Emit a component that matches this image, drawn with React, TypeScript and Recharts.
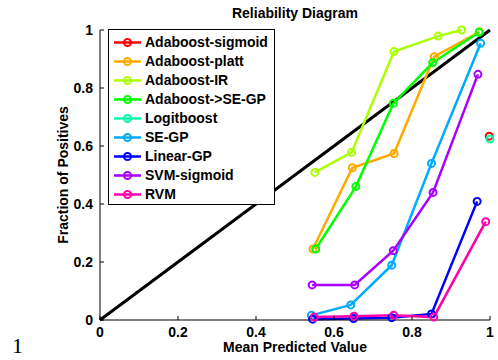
import React from 'react';
import { LineChart, Line, XAxis, YAxis, Legend } from 'recharts';

const FONT = '"Liberation Sans", Arial, Helvetica, sans-serif';

const axisTicks = [0, 0.2, 0.4, 0.6, 0.8, 1];

const seriesNames = [
  'Adaboost-sigmoid',
  'Adaboost-platt',
  'Adaboost-IR',
  'Adaboost->SE-GP',
  'Logitboost',
  'SE-GP',
  'Linear-GP',
  'SVM-sigmoid',
  'RVM',
];

// hsv(9) colour order
const seriesColors = [
  '#ff0000',
  '#ffaa00',
  '#aaff00',
  '#00ff00',
  '#00ffaa',
  '#00aaff',
  '#0000ff',
  '#aa00ff',
  '#ff00aa',
];

// mean predicted value (x) and fraction of positives (y) per method
const adaSigmoidX = [0.998];
const adaSigmoidY = [0.634];

const adaPlattX = [0.546, 0.647, 0.754, 0.857, 0.973];
const adaPlattY = [0.245, 0.525, 0.574, 0.908, 0.994];

const adaIrX = [0.551, 0.645, 0.754, 0.867, 0.927];
const adaIrY = [0.509, 0.578, 0.926, 0.979, 1.0];

const adaSeGpX = [0.553, 0.656, 0.752, 0.853, 0.972];
const adaSeGpY = [0.245, 0.46, 0.747, 0.887, 0.992];

const logitboostX = [1.0];
const logitboostY = [0.624];

const seGpX = [0.542, 0.643, 0.748, 0.85, 0.976];
const seGpY = [0.016, 0.052, 0.189, 0.54, 0.954];

const linearGpX = [0.545, 0.65, 0.748, 0.85, 0.967];
const linearGpY = [0.003, 0.005, 0.008, 0.021, 0.409];

const svmX = [0.544, 0.653, 0.752, 0.854, 0.969];
const svmY = [0.121, 0.121, 0.239, 0.44, 0.847];

const rvmX = [0.549, 0.651, 0.753, 0.856, 0.989];
const rvmY = [0.01, 0.013, 0.016, 0.01, 0.339];

// perfect calibration
const diagonalX = [0, 1];
const diagonalY = [0, 1];

const toPoints = (xs: number[], ys: number[]) => xs.map((x, i) => ({ x, y: ys[i] }));

const seriesData = [
  toPoints(adaSigmoidX, adaSigmoidY),
  toPoints(adaPlattX, adaPlattY),
  toPoints(adaIrX, adaIrY),
  toPoints(adaSeGpX, adaSeGpY),
  toPoints(logitboostX, logitboostY),
  toPoints(seGpX, seGpY),
  toPoints(linearGpX, linearGpY),
  toPoints(svmX, svmY),
  toPoints(rvmX, rvmY),
];

const LegendBox = () => (
  <div
    style={{
      border: '1px solid #000',
      background: '#fff',
      padding: '3px 0 0 0',
      width: 165,
      fontFamily: FONT,
      fontWeight: 'bold',
      fontSize: 14,
      color: '#000',
    }}
  >
    {seriesNames.map((name, i) => (
      <div key={name} style={{ display: 'flex', alignItems: 'center', height: 19, lineHeight: '19px' }}>
        <svg width={36} height={19} style={{ display: 'block' }}>
          <line x1={5} x2={32} y1={9.5} y2={9.5} stroke={seriesColors[i]} strokeWidth={2.5} />
          <circle cx={18.5} cy={9.5} r={3.5} fill="none" stroke={seriesColors[i]} strokeWidth={2} />
        </svg>
        <span style={{ whiteSpace: 'nowrap' }}>{name}</span>
      </div>
    ))}
  </div>
);

const tickStyle = { fontSize: 14, fontWeight: 'bold', fill: '#000', fontFamily: FONT };

export default function App() {
  return (
    <div style={{ position: 'absolute', left: 0, top: 0, width: 498, height: 360, background: '#fff' }}>
      <LineChart width={498} height={360} margin={{ top: 30, right: 8, bottom: 0, left: 0 }}>
        <XAxis
          dataKey="x"
          type="number"
          domain={[0, 1]}
          ticks={axisTicks}
          height={40}
          tickSize={-4}
          tickMargin={11}
          axisLine={{ stroke: '#000', strokeWidth: 1 }}
          tickLine={{ stroke: '#000' }}
          tick={tickStyle}
          label={{
            value: 'Mean Predicted Value',
            position: 'insideBottom',
            offset: 8,
            style: { fontSize: 14, fontWeight: 'bold', fill: '#000', fontFamily: FONT },
          }}
        />
        <YAxis
          type="number"
          domain={[0, 1]}
          ticks={axisTicks}
          width={100}
          tickSize={-4}
          tickMargin={11}
          axisLine={{ stroke: '#000', strokeWidth: 1 }}
          tickLine={{ stroke: '#000' }}
          tick={tickStyle}
          label={{
            value: 'Fraction of Positives',
            angle: -90,
            position: 'insideLeft',
            offset: 63,
            style: { textAnchor: 'middle', fontSize: 14, fontWeight: 'bold', fill: '#000', fontFamily: FONT },
          }}
        />
        <Legend
          layout="vertical"
          align="center"
          verticalAlign="middle"
          content={() => <LegendBox />}
          wrapperStyle={{ left: 108, top: 29, width: 'auto', height: 'auto' }}
        />
        <Line
          data={toPoints(diagonalX, diagonalY)}
          dataKey="y"
          stroke="#000"
          strokeWidth={3}
          dot={false}
          legendType="none"
          isAnimationActive={false}
        />
        {seriesData.map((pts, i) => (
          <Line
            key={seriesNames[i]}
            name={seriesNames[i]}
            data={pts}
            dataKey="y"
            stroke={seriesColors[i]}
            strokeWidth={2.5}
            dot={{ r: 3.5, strokeWidth: 2, fill: 'none', stroke: seriesColors[i] }}
            activeDot={false}
            isAnimationActive={false}
          />
        ))}
        <text x={12} y={353} fontFamily='"Liberation Serif", "Times New Roman", serif' fontSize={22} fill="#000">
          1
        </text>
        <text x={295} y={18} textAnchor="middle" fontFamily={FONT} fontWeight="bold" fontSize={14} fill="#000">
          Reliability Diagram
        </text>
      </LineChart>
    </div>
  );
}
